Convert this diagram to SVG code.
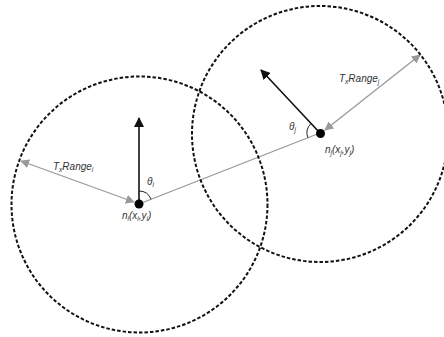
<svg xmlns="http://www.w3.org/2000/svg" width="444" height="337" viewBox="0 0 444 337">
<style>
.range{fill:none;stroke:#111;stroke-width:2;stroke-dasharray:3.5 2}
.gray{stroke:#999;stroke-width:1.3;fill:none}
.blk{stroke:#111;stroke-width:1.6;fill:none}
.arc{stroke:#222;stroke-width:1;fill:none}
text{font-family:"Liberation Sans",Arial,sans-serif;font-style:italic;font-size:10px;fill:#333}
.sub{font-size:6.5px}
</style>
<defs>
<marker id="ab" viewBox="0 0 10 10" refX="9" refY="5" markerWidth="10" markerHeight="10" markerUnits="userSpaceOnUse" orient="auto">
<path d="M0,0 L10,5 L0,10 z" fill="#111"/>
</marker>
<marker id="ag" viewBox="0 0 10 10" refX="9" refY="5" markerWidth="9" markerHeight="9" markerUnits="userSpaceOnUse" orient="auto-start-reverse">
<path d="M0,0 L10,5 L0,10 z" fill="#999"/>
</marker>
</defs>
<g id="connectors">
<line class="gray" x1="139" y1="204" x2="320" y2="133"/>
<line class="gray" x1="21" y1="161" x2="134" y2="202" marker-start="url(#ag)" marker-end="url(#ag)"/>
<line class="gray" x1="325" y1="130" x2="420" y2="55" marker-start="url(#ag)" marker-end="url(#ag)"/>
<line class="blk" x1="139" y1="204" x2="139" y2="118" marker-end="url(#ab)"/>
<line class="blk" x1="320" y1="133" x2="261" y2="70" marker-end="url(#ab)"/>
</g>
<g id="node-i">
<circle class="range" cx="139.5" cy="204.5" r="128"/>
<circle cx="139" cy="204" r="4.5" fill="#000"/>
<path class="arc" d="M139,191 A13,13 0 0 1 151.1,199.3"/>
<text x="147" y="185">θ<tspan class="sub" dy="2">i</tspan></text>
<text x="122" y="219">n<tspan class="sub" dy="2">i</tspan><tspan dy="-2">(x</tspan><tspan class="sub" dy="2">i</tspan><tspan dy="-2">,y</tspan><tspan class="sub" dy="2">i</tspan><tspan dy="-2">)</tspan></text>
<text x="53" y="170">T<tspan class="sub" dy="2">x</tspan><tspan dy="-2">Range</tspan><tspan class="sub" dy="2">i</tspan></text>
</g>
<g id="node-j">
<circle class="range" cx="320" cy="134" r="128"/>
<circle cx="320.5" cy="133.5" r="4.5" fill="#000"/>
<path class="arc" d="M311.1,123.5 A13,13 0 0 0 307.9,137.7"/>
<text x="289" y="130">θ<tspan class="sub" dy="2">j</tspan></text>
<text x="325" y="153">n<tspan class="sub" dy="2">j</tspan><tspan dy="-2">(x</tspan><tspan class="sub" dy="2">j</tspan><tspan dy="-2">,y</tspan><tspan class="sub" dy="2">j</tspan><tspan dy="-2">)</tspan></text>
<text x="339" y="82">T<tspan class="sub" dy="2">x</tspan><tspan dy="-2">Range</tspan><tspan class="sub" dy="2">j</tspan></text>
</g>
</svg>
